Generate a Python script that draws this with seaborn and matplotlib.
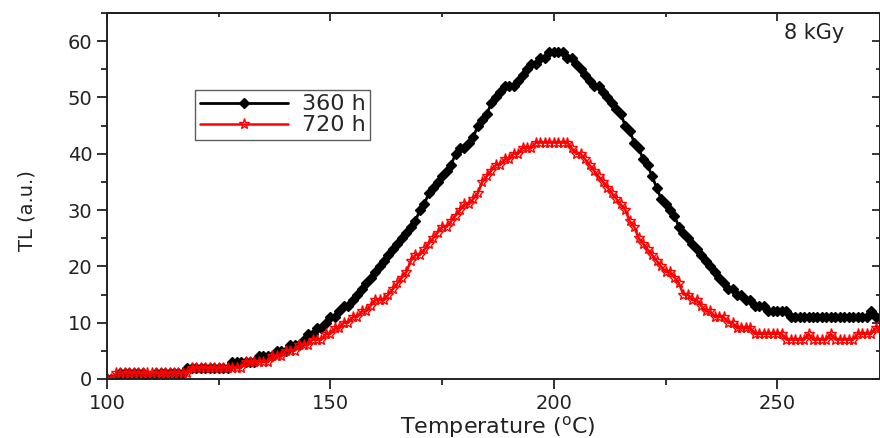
import numpy as np
import pandas as pd
import matplotlib
matplotlib.use('Agg')
import matplotlib.pyplot as plt
import seaborn as sns
from matplotlib.ticker import MultipleLocator

# temperature axis, one reading per degree
temperature = list(range(100, 274))

tl_360h = [
    0, 0, 0, 1, 1, 1, 1, 1, 1, 0,
    0, 1, 1, 1, 1, 1, 1, 1, 2, 2,
    2, 2, 2, 2, 2, 2, 2, 2, 3, 3,
    3, 3, 3, 3, 4, 4, 4, 4, 5, 5,
    5, 6, 6, 6, 7, 8, 8, 9, 9, 10,
    11, 11, 12, 13, 13, 14, 15, 16, 17, 18,
    19, 20, 21, 22, 23, 24, 25, 26, 27, 28,
    30, 31, 33, 34, 35, 36, 37, 38, 40, 41,
    41, 42, 43, 45, 46, 47, 49, 50, 51, 52,
    52, 52, 53, 54, 55, 56, 56, 57, 57, 58,
    58, 58, 58, 57, 57, 56, 55, 54, 53, 52,
    52, 51, 50, 49, 48, 47, 45, 44, 42, 41,
    39, 38, 36, 34, 32, 31, 30, 29, 27, 26,
    25, 24, 23, 22, 21, 20, 19, 18, 17, 16,
    16, 15, 15, 14, 14, 13, 13, 13, 12, 12,
    12, 12, 12, 11, 11, 11, 11, 11, 11, 11,
    11, 11, 11, 11, 11, 11, 11, 11, 11, 11,
    11, 12, 11, 11,
]

tl_720h = [
    0, 0, 1, 1, 1, 1, 1, 1, 1, 1,
    1, 1, 1, 1, 1, 1, 1, 1, 1, 2,
    2, 2, 2, 2, 2, 2, 2, 2, 2, 2,
    2, 3, 3, 3, 3, 3, 3, 4, 4, 4,
    5, 5, 5, 6, 6, 6, 7, 7, 7, 8,
    8, 9, 9, 10, 10, 11, 11, 12, 12, 13,
    14, 14, 14, 15, 16, 17, 18, 19, 21, 22,
    22, 23, 24, 25, 26, 27, 27, 28, 29, 30,
    31, 31, 32, 33, 35, 36, 37, 38, 38, 39,
    39, 40, 40, 41, 41, 41, 42, 42, 42, 42,
    42, 42, 42, 42, 41, 40, 40, 39, 38, 37,
    36, 35, 34, 33, 32, 31, 30, 28, 27, 25,
    24, 23, 22, 21, 20, 19, 19, 18, 17, 15,
    15, 14, 14, 13, 12, 12, 11, 11, 11, 10,
    10, 9, 9, 9, 9, 8, 8, 8, 8, 8,
    8, 8, 7, 7, 7, 7, 7, 8, 7, 7,
    7, 7, 8, 7, 7, 7, 7, 7, 8, 8,
    8, 8, 9, 9,
]

series_labels = ['360 h', '720 h']
dose_label = '8 kGy'

sns.set_theme(style='ticks')
plt.rcParams['font.family'] = ['DejaVu Sans']
plt.rcParams['axes.edgecolor'] = '#222222'

df = pd.DataFrame({'T': temperature, '360 h': tl_360h, '720 h': tl_720h})

fig = plt.figure(figsize=(8.8, 4.38), dpi=100)
ax = fig.add_axes([107 / 880, 59 / 438, 773 / 880, 366 / 438])

sns.lineplot(data=df, x='T', y='360 h', ax=ax, color='black', label=series_labels[0],
             marker='D', markersize=5, markeredgecolor='black', markeredgewidth=1.0,
             linewidth=2.0)
sns.lineplot(data=df, x='T', y='720 h', ax=ax, color='#ff0000', label=series_labels[1],
             marker='*', markersize=8, markerfacecolor='none', markeredgecolor='#ff0000',
             markeredgewidth=1.0, linewidth=1.8)

ax.set_xlim(100, 273)
ax.set_ylim(0, 65)
ax.xaxis.set_major_locator(MultipleLocator(50))
ax.xaxis.set_minor_locator(MultipleLocator(25))
ax.yaxis.set_major_locator(MultipleLocator(10))
ax.yaxis.set_minor_locator(MultipleLocator(5))
ax.tick_params(which='both', direction='out', width=1.3, color='#222222',
               labelsize=14, labelcolor='#222222')
ax.tick_params(which='major', length=7)
ax.tick_params(which='minor', length=4)

# mirrored ticks on top and right, pointing inward
top = ax.secondary_xaxis('top')
top.xaxis.set_major_locator(MultipleLocator(50))
top.xaxis.set_minor_locator(MultipleLocator(25))
top.tick_params(which='both', direction='in', labeltop=False, width=1.3)
top.tick_params(which='major', length=6)
top.tick_params(which='minor', length=3)
right = ax.secondary_yaxis('right')
right.yaxis.set_major_locator(MultipleLocator(10))
right.yaxis.set_minor_locator(MultipleLocator(5))
right.tick_params(which='both', direction='in', labelright=False, width=1.3)
right.tick_params(which='major', length=6)
right.tick_params(which='minor', length=3)

for sp in ax.spines.values():
    sp.set_linewidth(1.4)

ax.set_xlabel('Temperature ($^{\\mathregular{o}}$C)', fontsize=16, color='#222222')
ax.xaxis.label.set_va('center')
ax.xaxis.set_label_coords(0.505, -0.13)
ax.set_ylabel('TL (a.u.)', fontsize=14, color='#222222')
ax.yaxis.label.set_va('center')
ax.yaxis.set_label_coords(-0.103, 0.46)

ax.text(0.915, 0.945, dose_label, transform=ax.transAxes, fontsize=15,
        ha='center', va='center', color='#222222')

leg = ax.legend(loc='upper left', bbox_to_anchor=(0.114, 0.79), fontsize=16,
                frameon=True, fancybox=False, handlelength=4, handletextpad=0.6,
                borderpad=0.2, labelspacing=0.05, borderaxespad=0)
leg.get_frame().set_edgecolor('#333333')
leg.get_frame().set_linewidth(1.0)

fig.savefig('out.png', dpi=100)
